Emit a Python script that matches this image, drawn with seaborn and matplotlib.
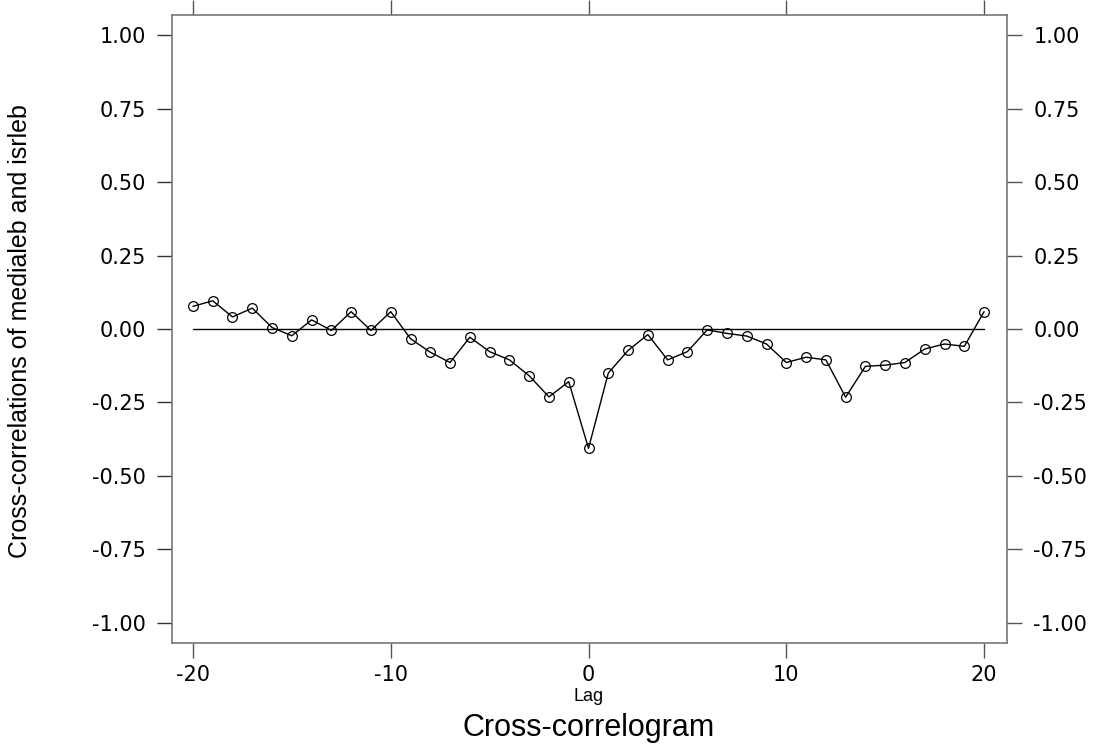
import matplotlib
matplotlib.use("Agg")
import matplotlib.pyplot as plt
import seaborn as sns
import numpy as np
import pandas as pd

lags = list(range(-20, 21))
xcorr = [0.077, 0.096, 0.041, 0.071, 0.005, -0.023, 0.031, -0.005, 0.059, -0.005,
         0.059, -0.033, -0.079, -0.114, -0.028, -0.077, -0.105, -0.159, -0.231, -0.179,
         -0.406,
         -0.150, -0.073, -0.019, -0.105, -0.077, -0.003, -0.015, -0.024, -0.051, -0.114,
         -0.096, -0.105, -0.232, -0.127, -0.123, -0.114, -0.068, -0.051, -0.059, 0.059]
yticks = [-1.0, -0.75, -0.5, -0.25, 0.0, 0.25, 0.5, 0.75, 1.0]
ytick_labels = ["-1.00", "-0.75", "-0.50", "-0.25", "0.00", "0.25", "0.50", "0.75", "1.00"]
xticks = [-20, -10, 0, 10, 20]
xtick_labels = ["-20", "-10", "0", "10", "20"]
ylabel = "Cross-correlations of medialeb and isrleb"
xlabel = "Lag"
title = "Cross-correlogram"

sns.set_style("white")
plt.rcParams['font.family'] = ['DejaVu Sans']
plt.rcParams['text.color'] = 'black'
plt.rcParams['xtick.labelcolor'] = 'black'
plt.rcParams['ytick.labelcolor'] = 'black'

label_font = 'Liberation Sans'

df = pd.DataFrame({"lag": lags, "r": xcorr})

fig = plt.figure(figsize=(10.94, 7.44), dpi=100)
ax = fig.add_axes([0.1572, 0.1358, 0.7633, 0.844])

sns.lineplot(data=df, x="lag", y="r", ax=ax, color="black", linewidth=1.0,
             marker="o", markersize=7, markerfacecolor="none",
             markeredgecolor="black", markeredgewidth=0.9)
ax.plot(lags, [0] * len(lags), color="black", linewidth=1.0)

ax.set_xlim(-21.06, 21.16)
ax.set_ylim(-1.068, 1.068)
ax.set_yticks(yticks)
ax.set_yticklabels(ytick_labels)
ax.set_xticks(xticks)
ax.set_xticklabels(xtick_labels)
ax.set_xlabel("")
ax.set_ylabel("")

for s in ax.spines.values():
    s.set_visible(True)
    s.set_color("#777777")
    s.set_linewidth(1.2)

ax.tick_params(axis="y", which="both", left=True, direction="out", length=11,
               width=1.0, color="#333333", pad=8, labelsize=15)
ax.tick_params(axis="x", which="both", bottom=True, top=True, direction="out",
               length=11, width=1.0, color="#555555", pad=5, labelsize=15)

ax2 = ax.twinx()
ax2.set_ylim(ax.get_ylim())
ax2.set_yticks(yticks)
ax2.set_yticklabels(ytick_labels)
ax2.tick_params(axis="y", right=True, direction="out", length=11, width=1.0,
                color="#555555", pad=8, labelsize=15)
for s in ax2.spines.values():
    s.set_visible(False)

fig.text(0.018, 0.555, ylabel, rotation=90, ha="center", va="center",
         fontsize=18, family=label_font)
fig.text(0.538, 0.064, xlabel, ha="center", va="center", fontsize=13, family=label_font)
fig.text(0.538, 0.021, title, ha="center", va="center", fontsize=22, family=label_font)

fig.savefig("out.png", dpi=100)
